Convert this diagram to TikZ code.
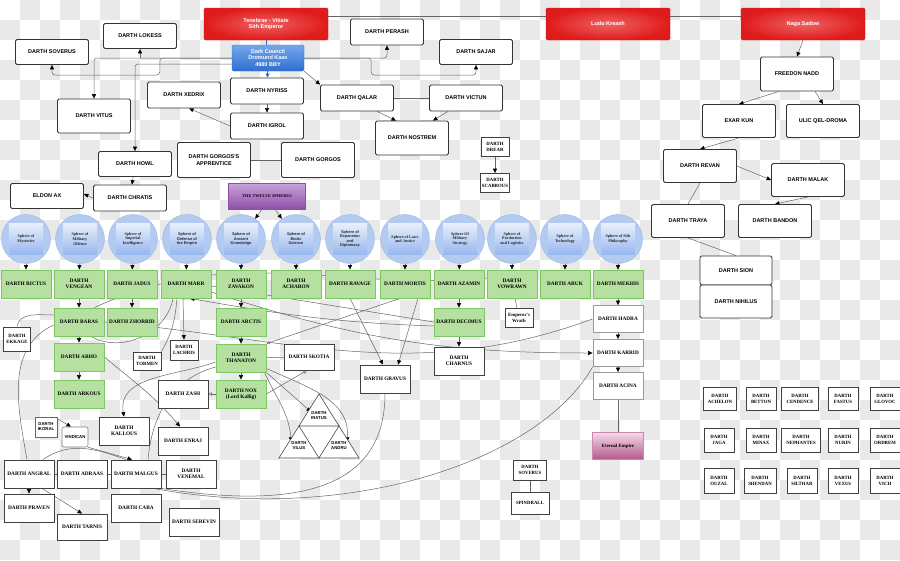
\documentclass[tikz,border=0pt]{standalone}
\usepackage{fontspec}
\usepackage{tikz}
\usetikzlibrary{arrows.meta}
\newfontfamily\sansface{Liberation Sans}
\newfontfamily\serifface{Liberation Serif}

\definecolor{sithred}{HTML}{E01B1B}
\definecolor{sithredlight}{HTML}{EE6262}
\definecolor{councilblue}{HTML}{2F6FD0}
\definecolor{councillight}{HTML}{74A6EC}
\definecolor{spherefill}{HTML}{B3CBF1}
\definecolor{sphereline}{HTML}{98B7E8}
\definecolor{spheredeep}{HTML}{7FA7EA}
\definecolor{greenfill}{HTML}{B5E0A0}
\definecolor{greenline}{HTML}{7CC762}
\definecolor{twelvetop}{HTML}{C9A3DA}
\definecolor{twelvebottom}{HTML}{8D50A8}
\definecolor{eternaltop}{HTML}{F3DAE7}
\definecolor{eternalbottom}{HTML}{B4578D}
\definecolor{checkgray}{HTML}{E9E9E9}

\newcommand{\fsans}{\sansface\bfseries\fontsize{5.5}{6.4}\selectfont}
\newcommand{\fserif}{\serifface\bfseries\fontsize{5.3}{6}\selectfont}
\newcommand{\fsmall}{\serifface\bfseries\fontsize{4.8}{5.4}\selectfont}
\newcommand{\ftiny}{\sansface\bfseries\fontsize{4.3}{5}\selectfont}
\newcommand{\fsphere}{\serifface\bfseries\fontsize{4.1}{4.6}\selectfont}
\newcommand{\fspheresans}{\sansface\bfseries\fontsize{3.9}{4.6}\selectfont}

\pgfdeclarelayer{board}
\pgfdeclarelayer{links}
\pgfsetlayers{board,links,main}

\begin{document}
\begin{tikzpicture}[x=1pt,y=-1pt,
sithbox/.style={draw=black!80,fill=white,line width=0.8pt,rounded corners=1.5pt,align=center,font=\fsans,minimum width=73pt,minimum height=26pt,inner sep=1pt},
emperor/.style={draw=sithred!85!black,inner color=sithredlight,outer color=sithred,rounded corners=1.5pt,align=center,font=\fsans,text=white,minimum width=124pt,minimum height=32pt},
councilbox/.style={draw=councilblue,top color=councillight,bottom color=councilblue,rounded corners=1.5pt,align=center,font=\fsans,text=white,minimum width=72pt,minimum height=26pt,inner sep=0.5pt},
twelvebox/.style={draw=twelvebottom,top color=twelvetop,bottom color=twelvebottom,align=center,font=\serifface\bfseries\fontsize{4.3}{5}\selectfont,text=black!80!violet,minimum width=77pt,minimum height=26pt},
sphere/.style={circle,draw=sphereline,fill=spherefill,minimum size=49pt,inner sep=0pt,align=center,font=\fsphere,text=black!85,
  path picture={\shade[top color=white,bottom color=spheredeep] ([xshift=-17pt,yshift=-15.5pt]path picture bounding box.center) rectangle ([xshift=17pt,yshift=15.5pt]path picture bounding box.center);}},
sphbox/.style={draw=greenline,fill=greenfill,line width=0.8pt,align=center,font=\fserif,minimum width=50pt,minimum height=28pt,inner sep=0.5pt},
wbox/.style={draw=black!75,fill=white,line width=0.8pt,align=center,font=\fserif,minimum width=50pt,minimum height=28pt,inner sep=0.5pt},
tinybox/.style={wbox,font=\fsmall,minimum width=28pt,minimum height=22pt,inner sep=1.5pt},
arr/.style={draw=black!60,line width=0.5pt,-{Triangle[length=4.5pt,width=4pt,color=black]}},
lnk/.style={draw=black!60,line width=0.5pt},
oarr/.style={lnk,-{Triangle[open,length=3.5pt,width=3.5pt]}},
barr/.style={draw=councilblue,line width=0.8pt,-{Triangle[length=4pt,width=4pt]}}
]
\useasboundingbox (0,0) rectangle (900,560);
\begin{pgfonlayer}{board}
\fill[white] (0,0) rectangle (900,560);
\foreach \i in {0,...,44}
  \foreach \j in {0,2,...,26}
    \fill[checkgray] ({20*\i},{20*\j+20*mod(\i+1,2)}) rectangle ++(20,20);
\end{pgfonlayer}

% emperors and council
\node[emperor] (tenebrae) at (266,24) {Tenebrae - Vitiate\\Sith Emperor};
\node[emperor] (ludo) at (608,24) {Ludo Kreash};
\node[emperor] (naga) at (803,24) {Naga Sadow};
\node[councilbox] (council) at (268,58) {Dark Council\\Dromund Kaas\\4980 BBY};

% lords of the dark council
\node[sithbox,minimum height=25pt] (lokess) at (140,36) {DARTH LOKESS};
\node[sithbox,minimum height=25pt] (soverus) at (52,52) {DARTH SOVERUS};
\node[sithbox] (perash) at (387,32) {DARTH PERASH};
\node[sithbox,minimum height=25pt] (sajar) at (476,52) {DARTH SAJAR};
\node[sithbox] (nyriss) at (267,91) {DARTH NYRISS};
\node[sithbox] (xedrix) at (184,95) {DARTH XEDRIX};
\node[sithbox] (igrol) at (267,126) {DARTH IGROL};
\node[sithbox] (qalar) at (357,98) {DARTH QALAR};
\node[sithbox] (victun) at (466,98) {DARTH VICTUN};
\node[sithbox,minimum height=34pt] (nostrem) at (412,138) {DARTH NOSTREM};
\node[sithbox,minimum height=34pt] (vitus) at (94,116) {DARTH VITUS};
\node[sithbox,minimum height=25pt] (howl) at (135,164) {DARTH HOWL};
\node[sithbox,minimum height=35pt] (apprentice) at (214,160) {DARTH GORGOS'S\\APPRENTICE};
\node[sithbox,minimum height=35pt] (gorgos) at (318,160) {DARTH GORGOS};
\node[sithbox,minimum height=25pt] (eldon) at (47,196) {ELDON AX};
\node[sithbox] (chratis) at (130,198) {DARTH CHRATIS};
\node[twelvebox] (twelve) at (267,196) {THE TWELVE SPHERES};
\node[tinybox,minimum height=19pt] (drear) at (495,147) {DARTH\\DREAR};
\node[tinybox,minimum height=19pt] (scabrous) at (495,183) {DARTH\\SCABROUS};

% old sith line
\node[sithbox,minimum height=34pt] (freedon) at (797,74) {FREEDON NADD};
\node[sithbox,minimum height=33pt] (exarkun) at (739,121) {EXAR KUN};
\node[sithbox,minimum height=33pt] (ulic) at (823,121) {ULIC QEL-DROMA};
\node[sithbox,minimum height=33pt] (revan) at (700,166) {DARTH REVAN};
\node[sithbox,minimum height=33pt] (malak) at (808,180) {DARTH MALAK};
\node[sithbox,minimum height=33pt] (traya) at (688,221) {DARTH TRAYA};
\node[sithbox,minimum height=33pt] (bandon) at (775,221) {DARTH BANDON};
\node[sithbox,minimum width=72pt,minimum height=29pt] (sion) at (736,270.5) {DARTH SION};
\node[sithbox,minimum width=72pt,minimum height=33pt] (nihilus) at (736,301.5) {DARTH NIHILUS};

% the twelve spheres
\node[sphere] (sph1) at (26,239) {Sphere of\\Mysteries};
\node[sphere] (sph2) at (80,239) {Sphere of\\Military\\Offense};
\node[sphere] (sph3) at (133,239) {Sphere of\\Imperial\\Intelligence};
\node[sphere,font=\fspheresans] (sph4) at (187,239) {Sphere of\\Defense of\\the Empire};
\node[sphere,font=\fspheresans] (sph5) at (241,239) {Sphere of\\Ancient\\Knowledge};
\node[sphere,font=\fspheresans] (sph6) at (296,239) {Sphere of\\Biotic\\Science};
\node[sphere,font=\fspheresans] (sph7) at (350,239) {Sphere of\\Expansion\\and\\Diplomacy};
\node[sphere] (sph8) at (405,239) {Sphere of Laws\\and Justice};
\node[sphere] (sph9) at (460,239) {Sphere Of\\Military\\Strategy};
\node[sphere] (sph10) at (512,239) {Sphere of\\Production\\and Logistics};
\node[sphere] (sph11) at (565,239) {Sphere of\\Technology};
\node[sphere] (sph12) at (618,239) {Sphere of Sith\\Philosophy};

% heads of the spheres
\node[sphbox] (rictus) at (26,284) {DARTH RICTUS};
\node[sphbox] (vengean) at (79,284) {DARTH\\VENGEAN};
\node[sphbox] (jadus) at (132,284) {DARTH JADUS};
\node[sphbox] (marr) at (186,284) {DARTH MARR};
\node[sphbox] (zavakon) at (241,284) {DARTH\\ZAVAKON};
\node[sphbox] (acharon) at (296,284) {DARTH\\ACHARON};
\node[sphbox] (ravage) at (350,284) {DARTH RAVAGE};
\node[sphbox] (mortis) at (405,284) {DARTH MORTIS};
\node[sphbox] (azamin) at (459,284) {DARTH AZAMIN};
\node[sphbox] (vowrawn) at (512,284) {DARTH\\VOWRAWN};
\node[sphbox] (aruk) at (565,284) {DARTH ARUK};
\node[sphbox] (mekhis) at (618,284) {DARTH MEKHIS};

% apprentices
\node[sphbox] (baras) at (79,322) {DARTH BARAS};
\node[sphbox] (zhorrid) at (132,322) {DARTH ZHORRID};
\node[sphbox] (arho) at (79,357) {DARTH ARHO};
\node[sphbox] (arkous) at (79,394) {DARTH ARKOUS};
\node[sphbox] (arctis) at (241,322) {DARTH ARCTIS};
\node[sphbox] (thanaton) at (241,358) {DARTH\\THANATON};
\node[sphbox] (nox) at (241,394) {DARTH NOX\\(Lord Kallig)};
\node[sphbox] (decimus) at (459,322) {DARTH DECIMUS};
\node[wbox] (charnus) at (459,361) {DARTH\\CHARNUS};
\node[tinybox,minimum height=19pt] (wrath) at (519,318) {Emperor's\\Wrath};
\node[wbox,draw=black!40,minimum height=27pt] (hadra) at (618,319) {DARTH HADRA};
\node[wbox,draw=black!40,minimum height=27pt] (karrid) at (618,353) {DARTH KARRID};
\node[wbox,draw=black!40,minimum height=27pt] (acina) at (618,386) {DARTH ACINA};
\node[wbox,draw=eternalbottom!70,top color=eternaltop,bottom color=eternalbottom,minimum width=51pt,minimum height=27pt,font=\fsmall] (eternal) at (618,446) {Eternal Empire};

\node[tinybox,minimum width=27pt,minimum height=24pt] (ekkage) at (17,339) {DARTH\\EKKAGE};
\node[tinybox,minimum height=20pt] (lachris) at (184,350) {DARTH\\LACHRIS};
\node[tinybox,minimum height=18pt] (tormen) at (147,361) {DARTH\\TORMEN};
\node[wbox,minimum height=26pt] (skotia) at (309,357) {DARTH SKOTIA};
\node[wbox] (zash) at (183,394) {DARTH ZASH};
\node[wbox] (gravus) at (385,379) {DARTH GRAVUS};
\node[wbox] (kallous) at (124,431) {DARTH\\KALLOUS};
\node[wbox] (enraj) at (183,441) {DARTH ENRAJ};
\node[wbox,font=\ftiny,minimum width=22pt,minimum height=20pt,line width=0.6pt,draw=black!60] (ikoral) at (46,427) {DARTH\\IKORAL};
\node[wbox,font=\ftiny,minimum width=26pt,minimum height=20pt,line width=0.6pt,draw=black!50,rounded corners=2pt] (vindican) at (75,437) {VINDICAN};
\node[wbox] (angral) at (29,474) {DARTH ANGRAL};
\node[wbox] (adraas) at (82,474) {DARTH ADRAAS};
\node[wbox] (malgus) at (136,474) {DARTH MALGUS};
\node[wbox] (venemal) at (191,474) {DARTH\\VENEMAL};
\node[wbox] (praven) at (29,508) {DARTH PRAVEN};
\node[wbox] (caba) at (136,508) {DARTH CABA};
\node[wbox,minimum height=26pt] (tarnis) at (82,527) {DARTH TARNIS};
\node[wbox] (serevin) at (194,522) {DARTH SEREVIN};
\node[tinybox,minimum width=33pt,minimum height=20pt] (soverustwo) at (530,470) {DARTH\\SOVERUS};
\node[tinybox,minimum width=38pt] (spindrall) at (530,503) {SPINDRALL};

% the triad
\draw[fill=white,draw=black!70,line width=0.6pt] (279,458) -- (319,394) -- (359,458) -- cycle (299,426) -- (339,426) -- (319,458) -- cycle;
\node[font=\ftiny,align=center,inner sep=0pt] (iratus) at (319,416) {DARTH\\IRATUS};
\node[font=\ftiny,align=center,inner sep=0pt] (vilus) at (299,446) {DARTH\\VILUS};
\node[font=\ftiny,align=center,inner sep=0pt] (andru) at (339,446) {DARTH\\ANDRU};

% lords without a place
\node[tinybox,minimum width=33pt,minimum height=23pt] (achelon) at (720,399) {DARTH\\ACHELON};
\node[tinybox,minimum width=30pt,minimum height=23pt] (betton) at (761,399) {DARTH\\BETTON};
\node[tinybox,minimum width=37pt,minimum height=23pt] (cendence) at (800,399) {DARTH\\CENDENCE};
\node[tinybox,minimum width=30pt,minimum height=23pt] (fastus) at (843,399) {DARTH\\FASTUS};
\node[tinybox,minimum width=30pt,minimum height=23pt] (glovoc) at (885,399) {DARTH\\GLOVOC};
\node[tinybox,minimum width=30pt,minimum height=24pt] (jaga) at (719,440) {DARTH\\JAGA};
\node[tinybox,minimum width=30pt,minimum height=24pt] (minax) at (761,440) {DARTH\\MINAX};
\node[tinybox,minimum width=39pt,minimum height=24pt] (nephantes) at (801,440) {DARTH\\NEPHANTES};
\node[tinybox,minimum width=30pt,minimum height=24pt] (nurin) at (843,440) {DARTH\\NURIN};
\node[tinybox,minimum width=30pt,minimum height=24pt] (ordrem) at (885,440) {DARTH\\ORDREM};
\node[tinybox,minimum width=30pt,minimum height=25pt] (ouzal) at (719,481) {DARTH\\OUZAL};
\node[tinybox,minimum width=32pt,minimum height=25pt] (shendan) at (760,481) {DARTH\\SHENDAN};
\node[tinybox,minimum width=30pt,minimum height=25pt] (silthar) at (802,481) {DARTH\\SILTHAR};
\node[tinybox,minimum width=30pt,minimum height=25pt] (vexus) at (843,481) {DARTH\\VEXUS};
\node[tinybox,minimum width=30pt,minimum height=25pt] (vich) at (885,481) {DARTH\\VICH};

\begin{pgfonlayer}{links}
% top
\draw[lnk] ([yshift=-8pt]tenebrae.north east) -- ([yshift=-8pt]ludo.north west);
\draw[lnk] ([yshift=-8pt]ludo.north east) -- ([yshift=-8pt]naga.north west);
\draw[councilblue,line width=0.8pt] (tenebrae.south) -- (tenebrae.south |- council.north);
\draw[barr] (council) -- (nyriss);
\draw[arr] (nyriss) -- (igrol);
\draw[arr] (igrol.west) -- ([xshift=5pt]xedrix.south);
\draw[arr] (council.south east) -- (qalar.north west);
\draw[arr,rounded corners=3pt] (council.west) -| (vitus.north);
\draw[arr] (lokess.south |- council.west) -- (lokess.south);
\draw[arr,rounded corners=3pt] (council.west) -| ++(-72,17) -| (soverus.south);
\draw[arr,rounded corners=3pt] ([yshift=-6pt]council.west) -| (howl.north);
\draw[arr,rounded corners=3pt] (council.east) -| (perash.south);
\draw[arr,rounded corners=3pt] (council.east) -| ++(67,17) -| (sajar.south);
\draw[arr] ([xshift=20pt]qalar.south) -- ([xshift=-16pt]nostrem.north);
\draw[arr] ([xshift=-18pt]victun.south) -- ([xshift=21pt]nostrem.north);
\draw[lnk] (qalar) -- (victun);
\draw[lnk] (apprentice) -- (gorgos);
\draw[arr] (howl) -- (chratis);
\draw[arr] (chratis.west) -- ([yshift=2pt]eldon.east);
\draw[arr] (drear) -- (scabrous);
\draw[arr] ([xshift=-5pt]twelve.south) -- (sph5.55);
\draw[arr] ([xshift=8pt]twelve.south) -- (sph6.125);
% old sith
\draw[arr] (naga.south) -- (freedon.north);
\draw[arr] ([xshift=-18pt]freedon.south) -- (exarkun.north);
\draw[arr] ([xshift=18pt]freedon.south) -- (ulic.north);
\draw[arr] (exarkun.south) -- (revan.north);
\draw[arr] (revan.east) -- (malak.west);
\draw[lnk] (revan.south) -- (traya.north);
\draw[arr] (malak.south) -- (bandon.north);
\draw[lnk] (traya.south) -- (sion.north);
% spheres
\foreach \s/\g in {sph1/rictus,sph2/vengean,sph3/jadus,sph4/marr,sph5/zavakon,sph6/acharon,sph7/ravage,sph8/mortis,sph9/azamin,sph10/vowrawn,sph11/aruk,sph12/mekhis}
  \draw[arr] (\s) -- (\g);
% apprentice chains
\draw[arr] (vengean) -- (baras);
\draw[arr] (baras) -- (arho);
\draw[arr] (arho) -- (arkous);
\draw[arr] (jadus) -- (zhorrid);
\draw[arr] (zavakon) -- (arctis);
\draw[arr] (arctis) -- (thanaton);
\draw[arr] (thanaton) -- (nox);
\draw[arr] (azamin) -- (decimus);
\draw[arr] (decimus) -- (charnus);
\draw[lnk] (vowrawn) -- (wrath);
\draw[arr] (mekhis) -- (hadra);
\draw[arr] (hadra) -- (karrid);
\draw[arr] (karrid) -- (acina);
\draw[lnk] (acina) -- (eternal);
% cross links
\draw[lnk] ([xshift=-10pt]baras.north east) to[out=25,in=185] ([yshift=6pt]vowrawn.west);
\draw[lnk] ([yshift=-2pt]marr.east) -- (decimus.west);
\draw[arr] ([yshift=-4pt]decimus.west) to[out=178,in=-10] ([xshift=4pt]marr.south);
\draw[arr] ([yshift=-8pt]marr.east) to[out=-18,in=180] (karrid.west);
\draw[lnk] (baras.east) to[out=-5,in=200] (hadra.west);
\draw[oarr] ([xshift=-5pt]mortis.south) -- (thanaton.north east);
\draw[arr] (ravage.south) -- ([xshift=-2pt]gravus.north);
\draw[arr] ([xshift=13pt]mortis.south) -- ([xshift=13pt]gravus.north);
\draw[arr] ([xshift=-3pt]marr.south) -- (lachris.north);
\draw[lnk] ([xshift=12pt]baras.south) to[out=-30,in=-100] ([xshift=-13pt]marr.south);
\draw[lnk] (tormen.north east) to[out=60,in=-95] ([xshift=-9pt]marr.south);
\draw[lnk] (ekkage.north) to[out=80,in=180] ([yshift=7pt]baras.west);
\draw[lnk] ([yshift=-3pt]baras.west) to[out=205,in=100] ([xshift=-2pt]angral.north);
\draw[arr] (arho.east) to[out=-40,in=130] ([xshift=-3pt]enraj.north);
\draw[arr] ([yshift=-4pt]thanaton.west) to[out=200,in=100] (kallous.north);
\draw[lnk] ([yshift=-9pt]thanaton.west) to[out=195,in=85] ([xshift=12pt]malgus.north);
\draw[lnk] (thanaton) -- (skotia);
\draw[oarr] (nox.east) -- ([xshift=-2pt]skotia.south);
\draw[oarr] (nox.west) -- (zash.east);
\draw[arr] (thanaton.south east) -- (iratus.north west);
\draw[arr] ([xshift=-2pt]thanaton.south east) to[out=-65,in=95] (vilus.north west);
\draw[arr] ([yshift=4pt]thanaton.south east) to[out=-25,in=85] (andru.north east);
% the lower ranks
\draw[arr] ([yshift=-2pt]ikoral.north east) -- ([xshift=-4pt]vindican.north);
\draw[arr] (vindican.south east) -- ([xshift=-4pt]malgus.north);
\draw[lnk] ([xshift=14pt]angral.north) to[out=35,in=160] ([xshift=-10pt]malgus.north);
\draw[arr] (angral.south) -- (praven.north);
\draw[arr] ([xshift=13pt]angral.south) -- (tarnis.north);
\draw[lnk] (angral) -- (adraas);
\draw[lnk] (adraas) -- (malgus);
\draw[lnk] (malgus) -- (venemal);
\draw[lnk] (malgus.south east) .. controls (330,515) and (385,470) .. (gravus.south);
\draw[lnk] ([xshift=-8pt]malgus.south east) .. controls (350,525) and (540,460) .. (karrid.south west);
\draw[lnk] (soverustwo) -- (spindrall);
\end{pgfonlayer}
\end{tikzpicture}
\end{document}
